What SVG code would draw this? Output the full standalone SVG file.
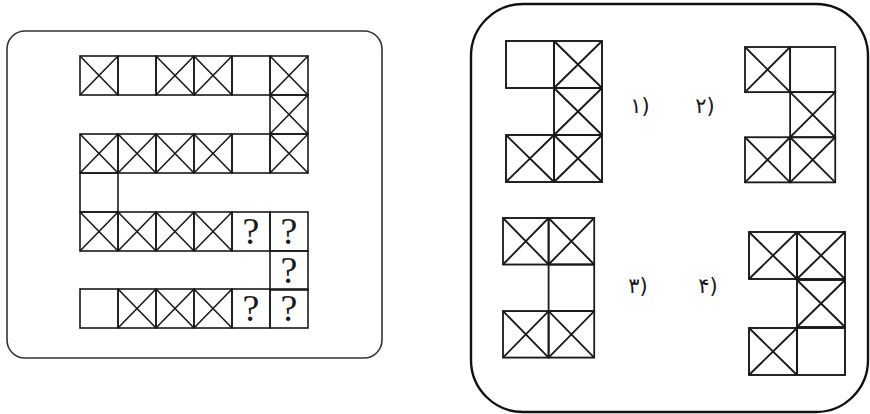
<svg xmlns="http://www.w3.org/2000/svg" width="870" height="414" viewBox="0 0 870 414">
<defs>
<style>
.c{fill:none;stroke:#1a1a1a;stroke-width:1.6}
.o{fill:none;stroke:#1a1a1a;stroke-width:1.9}
.q{font-family:"Liberation Serif",serif;font-size:38px;fill:#1a1a1a;text-anchor:middle}
.l{font-family:"DejaVu Sans",sans-serif;font-size:21px;fill:#1a1a1a;text-anchor:middle}
</style>
<g id="xc"><rect class="c" x="0" y="0" width="38" height="39"/><path class="c" d="M0 0L38 39M38 0L0 39"/></g>
<g id="bc"><rect class="c" x="0" y="0" width="38" height="39"/></g>
<g id="xo"><rect class="o" x="0" y="0" width="48" height="47"/><path class="o" d="M0 0L48 47M48 0L0 47"/></g>
<g id="bo"><rect class="o" x="0" y="0" width="48" height="47"/></g>
</defs>
<rect width="870" height="414" fill="#ffffff"/>
<g id="question-panel">
<rect x="7" y="31" width="375" height="327" rx="18" fill="none" stroke="#333" stroke-width="1.6"/>
<g id="row1">
<use href="#xc" x="80" y="56"/><use href="#bc" x="118" y="56"/><use href="#xc" x="156" y="56"/><use href="#xc" x="194" y="56"/><use href="#bc" x="232" y="56"/><use href="#xc" x="270" y="56"/>
</g>
<g id="row2"><use href="#xc" x="270" y="95"/></g>
<g id="row3">
<use href="#xc" x="80" y="134"/><use href="#xc" x="118" y="134"/><use href="#xc" x="156" y="134"/><use href="#xc" x="194" y="134"/><use href="#bc" x="232" y="134"/><use href="#xc" x="270" y="134"/>
</g>
<g id="row4"><use href="#bc" x="80" y="173"/></g>
<g id="row5">
<use href="#xc" x="80" y="212"/><use href="#xc" x="118" y="212"/><use href="#xc" x="156" y="212"/><use href="#xc" x="194" y="212"/><use href="#bc" x="232" y="212"/><use href="#bc" x="270" y="212"/>
<text class="q" x="251" y="244">?</text><text class="q" x="289" y="244">?</text>
</g>
<g id="row6"><use href="#bc" x="270" y="251"/><text class="q" x="289" y="283">?</text></g>
<g id="row7">
<use href="#bc" x="80" y="289"/><use href="#xc" x="118" y="289"/><use href="#xc" x="156" y="289"/><use href="#xc" x="194" y="289"/><use href="#bc" x="232" y="289"/><use href="#bc" x="270" y="289"/>
<text class="q" x="251" y="321">?</text><text class="q" x="289" y="321">?</text>
</g>
</g>
<g id="options-panel">
<rect x="471" y="4" width="397" height="408" rx="52" fill="none" stroke="#111" stroke-width="2.4"/>
<g id="option1">
<use href="#bo" x="506" y="41"/><use href="#xo" x="554" y="41"/><use href="#xo" x="554" y="88"/><use href="#xo" x="506" y="135"/><use href="#xo" x="554" y="135"/>
<text class="l" x="640" y="113">۱)</text>
</g>
<g id="option2">
<g transform="translate(745,47) scale(0.94,0.96)"><use href="#xo" x="0" y="0"/><use href="#bo" x="48" y="0"/><use href="#xo" x="48" y="47"/><use href="#xo" x="0" y="94"/><use href="#xo" x="48" y="94"/></g>
<text class="l" x="705" y="113">۲)</text>
</g>
<g id="option3">
<g transform="translate(503,218) scale(0.95,0.99)"><use href="#xo" x="0" y="0"/><use href="#xo" x="48" y="0"/><use href="#bo" x="48" y="47"/><use href="#xo" x="0" y="94"/><use href="#xo" x="48" y="94"/></g>
<text class="l" x="638" y="293">۳)</text>
</g>
<g id="option4">
<g transform="translate(749,232)"><use href="#xo" x="0" y="0"/><use href="#xo" x="48" y="0"/><use href="#xo" x="48" y="48"/><use href="#xo" x="0" y="96"/><use href="#bo" x="48" y="96"/></g>
<text class="l" x="708" y="293">۴)</text>
</g>
</g>
</svg>
